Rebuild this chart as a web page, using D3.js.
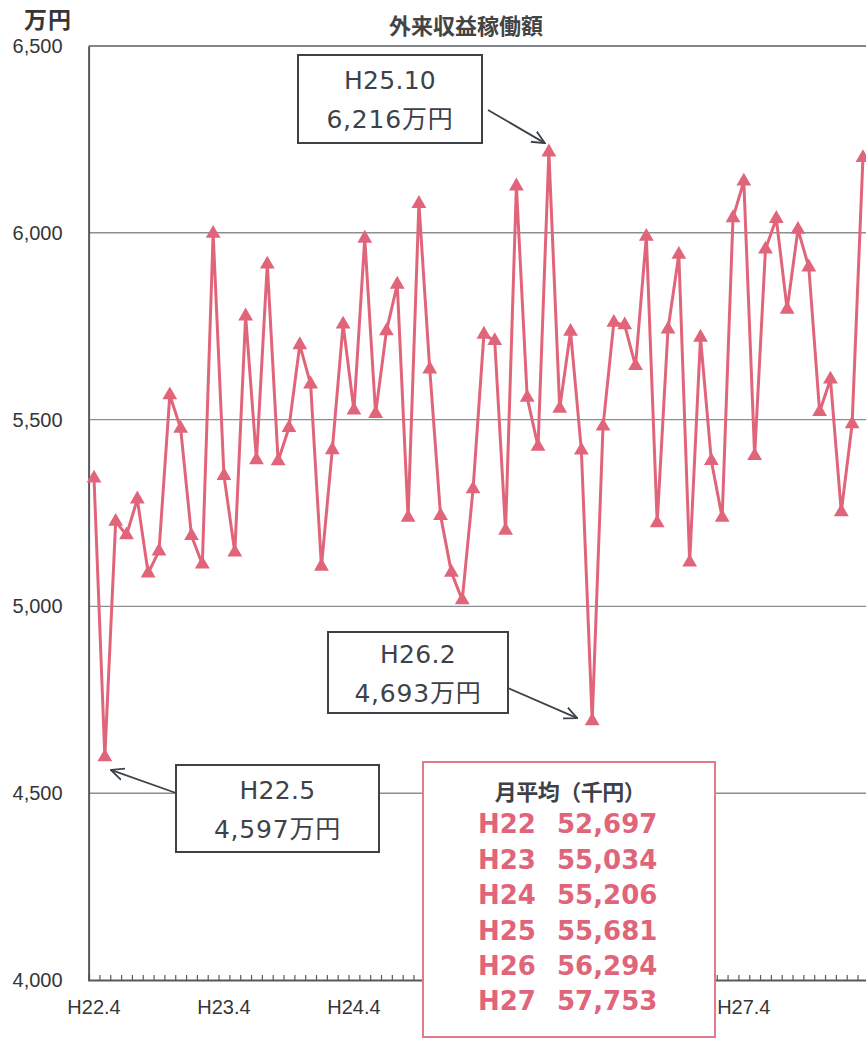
<!DOCTYPE html>
<html><head><meta charset="utf-8">
<script src="https://cdn.jsdelivr.net/npm/d3@7"></script>
<style>
html,body{margin:0;padding:0;background:#fff;}
svg{display:block;}
</style>
</head><body>
<svg id="chart" width="866" height="1041"></svg>
<script>
const categories = [
"H22.4","H22.5","H22.6","H22.7","H22.8","H22.9","H22.10","H22.11","H22.12","H23.1","H23.2","H23.3",
"H23.4","H23.5","H23.6","H23.7","H23.8","H23.9","H23.10","H23.11","H23.12","H24.1","H24.2","H24.3",
"H24.4","H24.5","H24.6","H24.7","H24.8","H24.9","H24.10","H24.11","H24.12","H25.1","H25.2","H25.3",
"H25.4","H25.5","H25.6","H25.7","H25.8","H25.9","H25.10","H25.11","H25.12","H26.1","H26.2","H26.3",
"H26.4","H26.5","H26.6","H26.7","H26.8","H26.9","H26.10","H26.11","H26.12","H27.1","H27.2","H27.3",
"H27.4","H27.5","H27.6","H27.7","H27.8","H27.9","H27.10","H27.11","H27.12","H28.1","H28.2","H28.3"];
const values = [
5343,4597,5227,5191,5287,5089,5148,5566,5476,5189,5113,5998,
5350,5145,5777,5392,5916,5389,5478,5700,5595,5107,5419,5755,
5525,5985,5516,5737,5862,5238,6078,5635,5243,5091,5017,5314,
5728,5711,5203,6125,5559,5428,6216,5530,5736,5418,4693,5482,
5760,5753,5644,5990,5223,5742,5942,5118,5720,5390,5238,6040,
6138,5403,5956,6038,5795,6009,5908,5521,5608,5253,5488,6201];
// visible category labels (H25.4 / H26.4 sit under the average box in the original)
const xTickLabels = ["H22.4","H23.4","H24.4","H27.4"];
const yTicks = [4000,4500,5000,5500,6000,6500];
const annCats = ["H25.10","H26.2","H22.5"];
const avgYears = ["H22","H23","H24","H25","H26","H27"];
const avgValues = [52697,55034,55206,55681,56294,57753];

(function draw() {
const svg = d3.select("#chart");
const W = 866, H = 1041;
const pLeft = 88.6, pTop = 46, pBottom = 980;
const bw = 10.83;
const pRight = pLeft + bw * categories.length;
const lineColor = "#e1657a";
const fmt = d3.format(",");

svg.append("rect").attr("width", W).attr("height", H).attr("fill", "#fff");

const x = d3.scaleBand().domain(categories).range([pLeft, pRight]).padding(0);
const xIdx = d3.scaleLinear().domain([0, categories.length]).range([pLeft, pRight]);
const y = d3.scaleLinear().domain([4000, 6500]).range([pBottom, pTop]);
const cx = d => x(d) + x.bandwidth() / 2;

// gridlines
svg.append("g").selectAll("line").data(yTicks.filter(v => v > 4000 && v < 6500)).join("line")
  .attr("x1", pLeft).attr("x2", pRight).attr("y1", d => y(d)).attr("y2", d => y(d))
  .attr("stroke", "#8a8f94").attr("stroke-width", 1.4);
// top border
svg.append("line").attr("x1", pLeft).attr("x2", pRight).attr("y1", y(6500)).attr("y2", y(6500))
  .attr("stroke", "#80868c").attr("stroke-width", 2);

// y axis
const yAxis = svg.append("g").attr("transform", `translate(${pLeft},0)`)
  .call(d3.axisLeft(y).tickValues(yTicks).tickSize(0).tickPadding(26).tickFormat(d3.format(",")));
yAxis.select(".domain").attr("stroke", "#555a61").attr("stroke-width", 2);
yAxis.selectAll("text").attr("font-family", "Liberation Sans, Arial, sans-serif")
  .attr("font-size", 20).attr("fill", "#363636");

// x axis minor ticks (at category boundaries, pointing up)
const xTicksG = svg.append("g").attr("transform", `translate(0,${pBottom})`)
  .call(d3.axisBottom(xIdx).tickValues(d3.range(0, categories.length + 1)).tickSize(-5).tickFormat(""));
xTicksG.select(".domain").attr("stroke", "#555a61").attr("stroke-width", 2);
xTicksG.selectAll(".tick line").attr("stroke", "#555a61").attr("stroke-width", 1.2);

// x labels
const xLab = svg.append("g").attr("transform", `translate(0,${pBottom})`)
  .call(d3.axisBottom(x).tickValues(xTickLabels).tickSize(0).tickPadding(20));
xLab.select(".domain").remove();
xLab.selectAll("text").attr("font-family", "Liberation Sans, Arial, sans-serif")
  .attr("font-size", 20).attr("fill", "#363636");

// line
const line = d3.line().x((d, i) => cx(categories[i])).y(d => y(d));
svg.append("path").datum(values).attr("d", line).attr("fill", "none")
  .attr("stroke", lineColor).attr("stroke-width", 3).attr("stroke-linejoin", "round");
// markers
svg.append("g").selectAll("path").data(values).join("path")
  .attr("transform", (d, i) => `translate(${cx(categories[i])},${y(d)})`)
  .attr("d", d3.symbol(d3.symbolTriangle, 95)).attr("fill", lineColor);

// labels
svg.append("text").attr("x", 48).attr("y", 28).attr("text-anchor", "middle")
  .attr("font-family", "Noto Sans CJK JP").attr("font-weight", 700).attr("font-size", 23)
  .attr("letter-spacing", "1px").attr("fill", "#363636").text("万円");
svg.append("text").attr("x", 466).attr("y", 34).attr("text-anchor", "middle")
  .attr("font-family", "Noto Sans CJK JP").attr("font-weight", 700).attr("font-size", 22)
  .attr("fill", "#444").text("外来収益稼働額");

// arrowhead marker
const defs = svg.append("defs");
defs.append("marker").attr("id", "ah").attr("viewBox", "0 0 14 14").attr("refX", 13).attr("refY", 7)
  .attr("markerWidth", 14).attr("markerHeight", 14).attr("markerUnits", "userSpaceOnUse").attr("orient", "auto")
  .append("path").attr("d", "M0,1 L13,7 L0,13").attr("fill", "none").attr("stroke", "#3d4248").attr("stroke-width", 1.8);

// annotations: box [x,y,w,h], arrow start, tip offset from data point
const annLayout = [
  {box: [298, 55, 184, 88], from: [488, 110], tip: [-4, -9]},
  {box: [328, 632, 180, 81], from: [508, 688], tip: [-15, -3]},
  {box: [176, 765, 203, 87], from: [176, 793], tip: [6, 13]}
];
annCats.forEach((c, k) => {
  const i = categories.indexOf(c);
  const v = values[i];
  const L = annLayout[k];
  const [bx, by, bwid, bh] = L.box;
  const px = cx(c), py = y(v);
  svg.append("line").attr("x1", L.from[0]).attr("y1", L.from[1])
    .attr("x2", px + L.tip[0]).attr("y2", py + L.tip[1])
    .attr("stroke", "#3d4248").attr("stroke-width", 1.8).attr("marker-end", "url(#ah)");
  svg.append("rect").attr("x", bx).attr("y", by).attr("width", bwid).attr("height", bh)
    .attr("fill", "#fff").attr("stroke", "#3d4248").attr("stroke-width", 2);
  const g = svg.append("g").attr("font-family", "DejaVu Sans, Noto Sans CJK JP")
    .attr("font-size", 25).attr("fill", "#3d4248").attr("text-anchor", "middle");
  g.append("text").attr("x", bx + bwid / 2).attr("y", by + bh / 2 - 19).attr("dy", "0.36em")
    .attr("letter-spacing", "0.3px").text(c);
  g.append("text").attr("x", bx + bwid / 2).attr("y", by + bh / 2 + 20).attr("dy", "0.36em")
    .attr("letter-spacing", "0.8px").text(fmt(v) + "万円");
});

// monthly average box
svg.append("rect").attr("x", 423).attr("y", 762).attr("width", 292).attr("height", 275)
  .attr("fill", "#fff").attr("stroke", "#e27a88").attr("stroke-width", 2);
svg.append("text").attr("x", 570).attr("y", 792).attr("dy", "0.35em").attr("text-anchor", "middle")
  .attr("font-family", "Noto Sans CJK JP").attr("font-weight", 700).attr("font-size", 22)
  .attr("letter-spacing", "-0.5px").attr("fill", "#3d4248").text("月平均（千円）");
const rows = svg.append("g");
avgYears.forEach((yr, i) => {
  const ty = 824 + i * 35.4;
  rows.append("text").attr("x", 478).attr("y", ty).attr("dy", "0.36em")
    .attr("font-family", "DejaVu Sans").attr("font-weight", 700).attr("font-size", 26)
    .attr("fill", lineColor).text(yr);
  rows.append("text").attr("x", 557).attr("y", ty).attr("dy", "0.36em")
    .attr("font-family", "DejaVu Sans").attr("font-weight", 700).attr("font-size", 26)
    .attr("fill", lineColor).text(fmt(avgValues[i]));
});
})();
</script>
</body></html>
